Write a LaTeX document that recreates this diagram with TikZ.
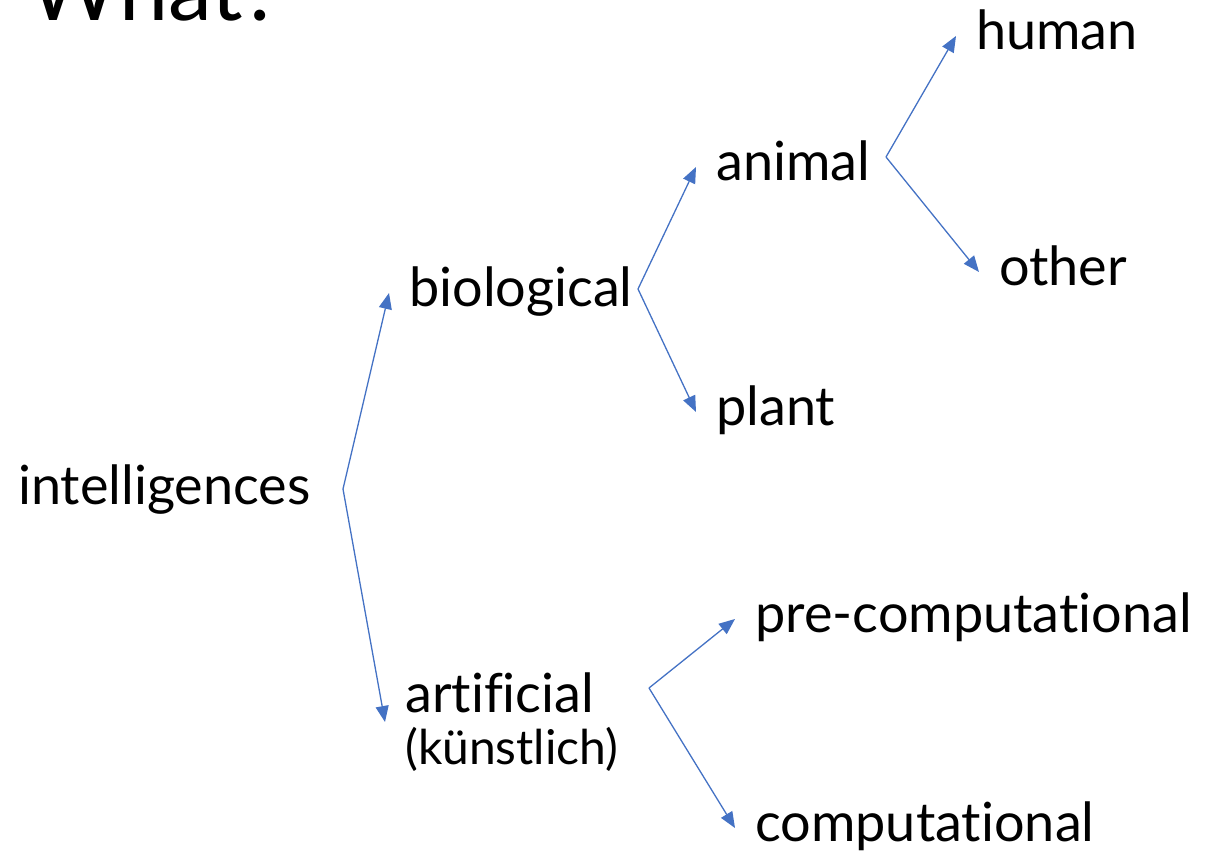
\documentclass[tikz,border=0pt]{standalone}
\usepackage{fontspec}
\setmainfont{Lato}[Ligatures=NoCommon]
\usetikzlibrary{arrows.meta}
\definecolor{branchblue}{HTML}{4472C4}

\begin{document}
\fontsize{54}{58}\selectfont
\begin{tikzpicture}[x=1pt,y=-1pt,
        word/.style={anchor=mid west,inner xsep=20pt,inner ysep=0pt,font=\fontsize{54}{58}\selectfont},
        branch/.style={draw=branchblue,line width=1.3pt,-{Triangle[length=16pt,width=13pt]}}]
        \useasboundingbox (0,0) rectangle (1212,858);
        %% Title
        \node[anchor=base west,inner sep=0pt,font=\fontsize{88}{96}\selectfont] (title) at (28,21) {What?};
        %% Words
        \node[word] (intel) at (-2,491) {intelligences};
        \node[word] (bio) at (389,293) {biological};
        \node[word] (animal) at (696,167) {animal};
        \node[word] (plant) at (696,412) {plant};
        \node[word] (human) at (956,36) {human};
        \node[word] (other) at (979,272) {other};
        \node[word,anchor=west,align=left,font=\fontsize{54}{52}\selectfont] (art) at (385,722) {artificial\\{\fontsize{48}{52}\selectfont (künstlich)}};
        \node[word] (precomp) at (735,619) {pre-computational};
        \node[word] (comp) at (735,828) {computational};
        %% Forks
        \coordinate (intelFork) at (343,489);
        \coordinate (bioFork) at (638,289);
        \coordinate (animalFork) at (886,157);
        \coordinate (artFork) at (649,688);
        %% Branches
        \draw[branch] (intelFork) -- (bio.mid west);
        \draw[branch] (intelFork) -- (art.west);
        \draw[branch] (bioFork) -- (animal.mid west);
        \draw[branch] (bioFork) -- (plant.mid west);
        \draw[branch] (animalFork) -- (human.mid west);
        \draw[branch] (animalFork) -- (other.mid west);
        \draw[branch] (artFork) -- (precomp.mid west);
        \draw[branch] (artFork) -- (comp.mid west);
\end{tikzpicture}
\end{document}
